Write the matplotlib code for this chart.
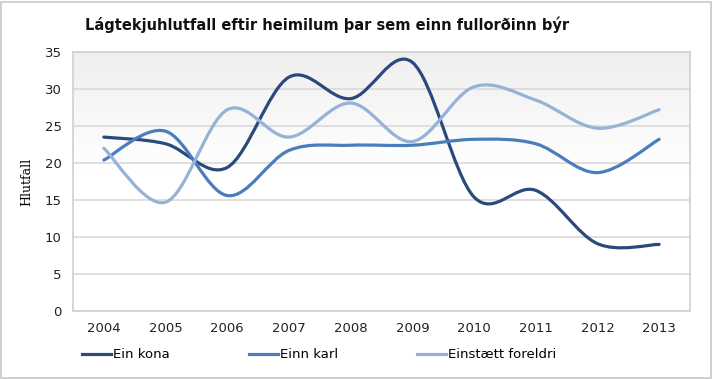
import numpy as np
import matplotlib
matplotlib.use("Agg")
import matplotlib.pyplot as plt
from matplotlib.path import Path
from matplotlib.patches import PathPatch, Rectangle
from matplotlib.lines import Line2D
from matplotlib.colors import LinearSegmentedColormap

# gögn
years = ["2004", "2005", "2006", "2007", "2008", "2009", "2010", "2011", "2012", "2013"]
ein_kona = [23.5, 22.6, 19.4, 31.6, 28.7, 33.6, 15.4, 16.3, 9.1, 9.0]
einn_karl = [20.4, 24.3, 15.6, 21.7, 22.4, 22.4, 23.2, 22.6, 18.7, 23.2]
einstaett = [22.0, 14.7, 27.2, 23.5, 28.1, 22.9, 30.3, 28.5, 24.7, 27.2]
series_names = ["Ein kona", "Einn karl", "Einstætt foreldri"]
colors = ["#2b4a7c", "#4a7ebb", "#95b3d7"]


def smooth_path(x, y):
    # Excel-líkur ferill: kúbískir Bezier bútar gegnum punktana
    pts = np.column_stack([x, y]).astype(float)
    n = len(pts)
    verts = [pts[0]]
    codes = [Path.MOVETO]
    for i in range(n - 1):
        p0 = pts[i - 1] if i > 0 else pts[i]
        p1 = pts[i]
        p2 = pts[i + 1]
        p3 = pts[i + 2] if i + 2 < n else pts[i + 1]
        c1 = p1 + (p2 - p0) / 6.0
        c2 = p2 - (p3 - p1) / 6.0
        verts += [c1, c2, p2]
        codes += [Path.CURVE4] * 3
    return Path(verts, codes)


fig = plt.figure(figsize=(7.13, 3.79), dpi=100)
fig.patch.set_facecolor("white")
fig.patches.append(Rectangle((0.002, 0.003), 0.995, 0.993, transform=fig.transFigure,
                             fill=False, edgecolor="#c8c8c8", linewidth=1.2))

ax = fig.add_axes([73 / 713, 1 - 311 / 379, 617 / 713, 259 / 379])
x = np.arange(len(years))
ax.set_xlim(-0.5, len(years) - 0.5)
ax.set_ylim(0, 35)

# bakgrunnur með litbrigðum (grátt efst, hvítt neðst)
grad = np.linspace(0, 1, 256).reshape(-1, 1)
cmap = LinearSegmentedColormap.from_list("bg", [(0, "#ffffff"), (0.55, "#ffffff"), (1, "#efefef")])
ax.imshow(grad, aspect="auto", cmap=cmap, origin="lower",
          extent=(-0.5, len(years) - 0.5, 0, 35), zorder=0)

ax.set_yticks(np.arange(0, 36, 5))
ax.yaxis.grid(True, color="#d9d9d9", linewidth=1.2)
ax.set_axisbelow(True)
ax.set_xticks(x)
ax.set_xticklabels(years)
ax.tick_params(length=0, labelsize=9.5, colors="#222222", pad=8)
for s in ax.spines.values():
    s.set_color("#d0d0d0")
    s.set_linewidth(1.2)

for vals, c in zip([ein_kona, einn_karl, einstaett], colors):
    ax.add_patch(PathPatch(smooth_path(x, vals), facecolor="none", edgecolor=c,
                           linewidth=2.3, capstyle="round", zorder=3))

ax.set_ylabel("Hlutfall", family="DejaVu Serif", fontsize=9, labelpad=8)

fig.text(85 / 713, 1 - 25 / 379, "Lágtekjuhlutfall eftir heimilum þar sem einn fullorðinn býr",
         fontsize=10.5, fontweight="bold", va="center", ha="left", color="#111111")

handles = [Line2D([], [], color=c, linewidth=2.3) for c in colors]
fig.legend(handles, series_names, loc="center left", bbox_to_anchor=(70 / 713, 1 - 355 / 379),
           ncol=3, frameon=False, fontsize=9.5, handlelength=2.2, handletextpad=0.15,
           columnspacing=6.0)

fig.savefig("out.png", dpi=100)
